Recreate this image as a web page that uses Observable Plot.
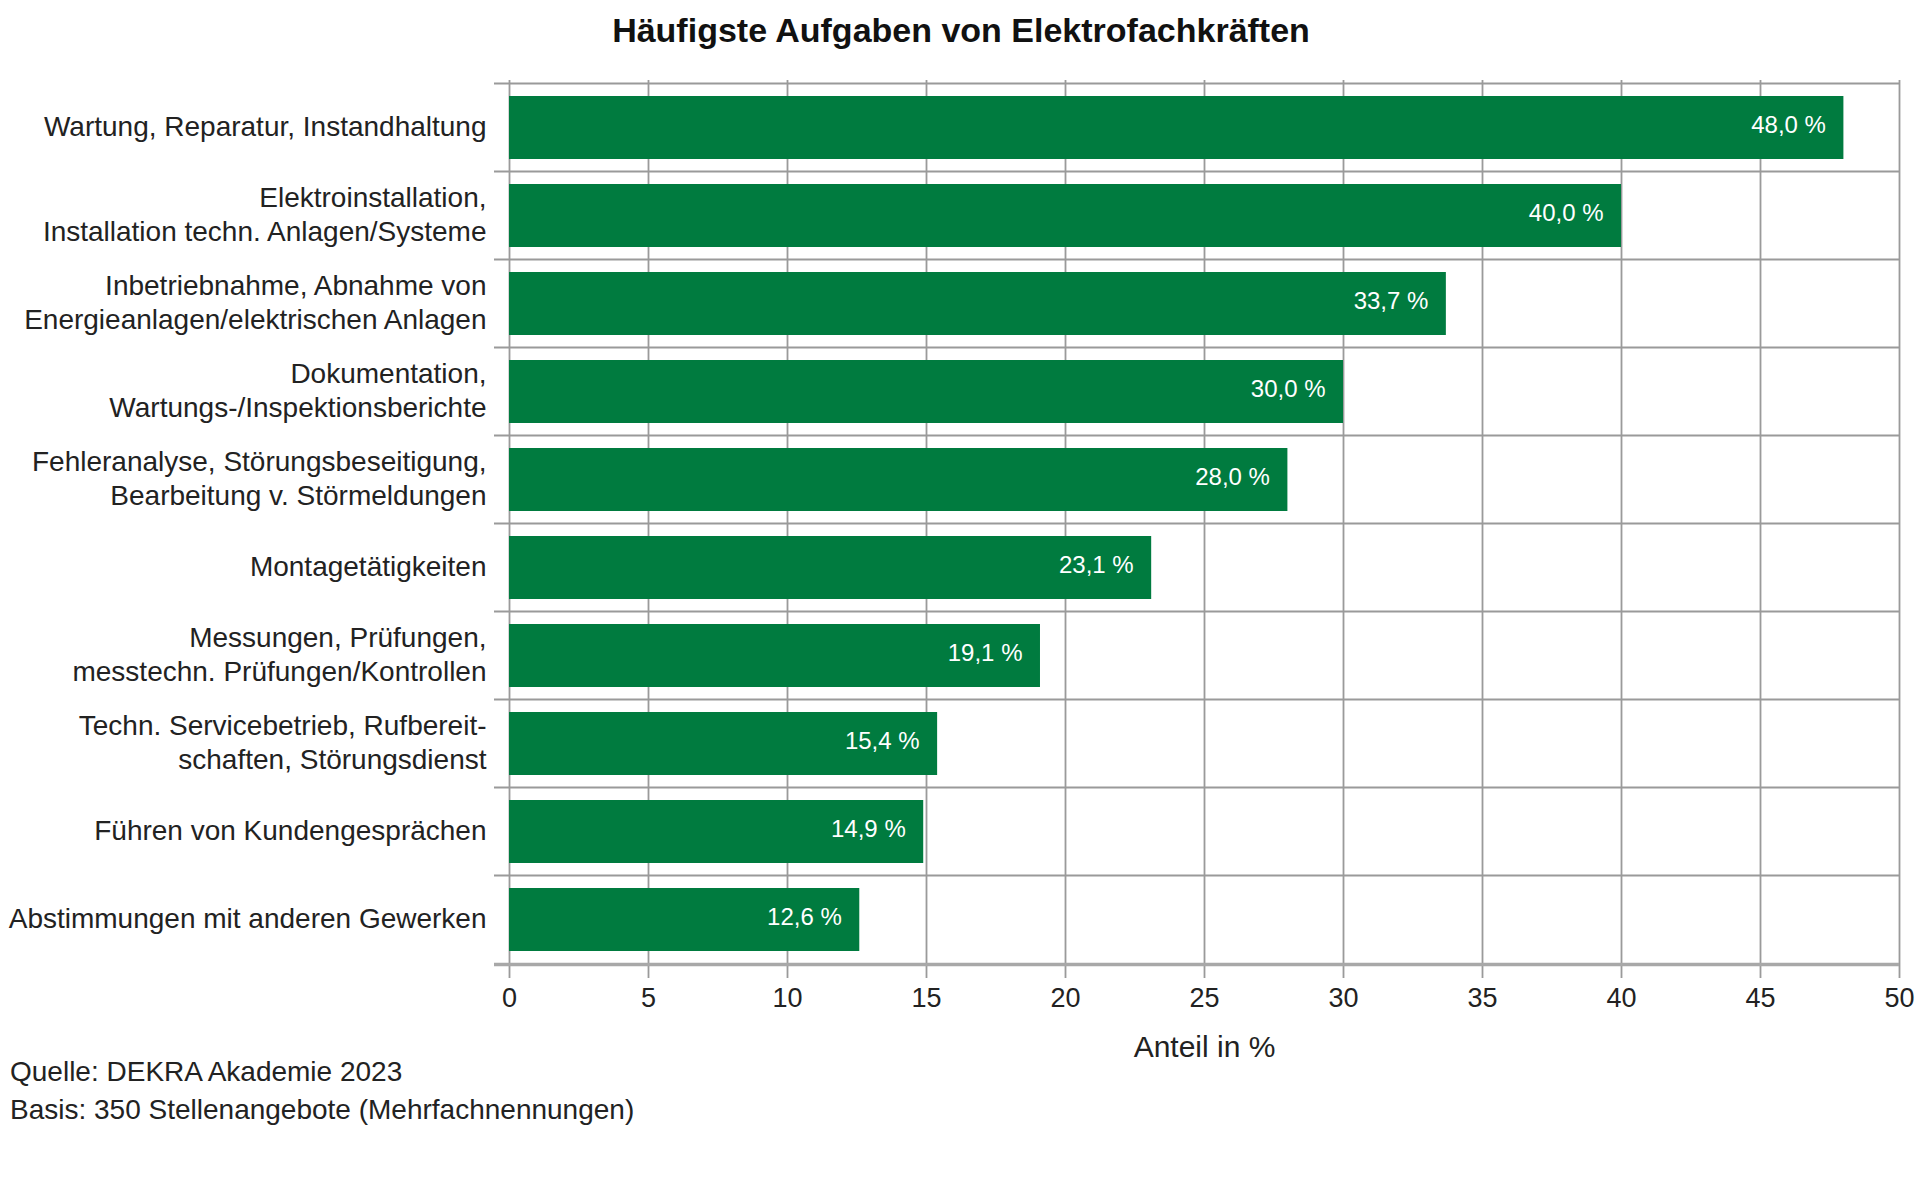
<!DOCTYPE html>
<html><head><meta charset="utf-8">
<script src="https://cdn.jsdelivr.net/npm/d3@7"></script>
<script src="https://cdn.jsdelivr.net/npm/@observablehq/plot@0.6"></script>
<style>
body{margin:0;background:#fff;font-family:"Liberation Sans",Arial,sans-serif;}
#wrap{position:relative;width:1922px;height:1204px;}
#title{position:absolute;left:0;top:10px;width:1922px;text-align:center;font-weight:bold;font-size:34px;line-height:40px;color:#111;}
#chart{position:absolute;left:0;top:0;}
#caption{position:absolute;left:10px;top:1053px;font-size:28px;line-height:38px;color:#222;}
</style></head><body>
<div id="wrap"><div id="chart"></div><div id="title">Häufigste Aufgaben von Elektrofachkräften</div><div id="caption">Quelle: DEKRA Akademie 2023<br>Basis: 350 Stellenangebote (Mehrfachnennungen)</div></div>
<script>
const categories = [
  "Wartung, Reparatur, Instandhaltung",
  "Elektroinstallation,\nInstallation techn. Anlagen/Systeme",
  "Inbetriebnahme, Abnahme von\nEnergieanlagen/elektrischen Anlagen",
  "Dokumentation,\nWartungs-/Inspektionsberichte",
  "Fehleranalyse, Störungsbeseitigung,\nBearbeitung v. Störmeldungen",
  "Montagetätigkeiten",
  "Messungen, Prüfungen,\nmesstechn. Prüfungen/Kontrollen",
  "Techn. Servicebetrieb, Rufbereit-\nschaften, Störungsdienst",
  "Führen von Kundengesprächen",
  "Abstimmungen mit anderen Gewerken"
];
const values = [48.0, 40.0, 33.7, 30.0, 28.0, 23.1, 19.1, 15.4, 14.9, 12.6];
const xTicks = [0, 5, 10, 15, 20, 25, 30, 35, 40, 45, 50];
const xLabel = "Anteil in %";

const data = categories.map((c, i) => ({task: c, value: values[i]}));
const fmt = v => v.toFixed(1).replace(".", ",") + " %";

const W = 1922, H = 1060, mT = 80, mB = 92, mL = 509, mR = 23;
const step = (H - mT - mB) / categories.length;
const grid = "#9a9a9a";

const chart = Plot.plot({
  width: W, height: H,
  marginTop: mT, marginBottom: mB, marginLeft: mL, marginRight: mR,
  style: {fontFamily: '"Liberation Sans", Arial, sans-serif', overflow: "visible", background: "white", color: "#222"},
  x: {domain: [0, 50]},
  y: {domain: categories, paddingInner: 0.28, paddingOuter: 0.14},
  marks: [
    Plot.gridX(xTicks, {stroke: grid, strokeOpacity: 1, strokeWidth: 1.8}),
    Plot.ruleY(categories, {y: d => d, dy: -step / 2, insetLeft: -15, stroke: grid, strokeWidth: 2}),
    Plot.barX(data, {x: "value", y: "task", fill: "#007b3f"}),
    Plot.ruleY([categories[categories.length - 1]], {y: d => d, dy: step / 2, insetLeft: -15, stroke: "#a8a8a8", strokeWidth: 3.5}),
    Plot.axisX({ticks: xTicks, tickSize: 10, tickPadding: 9, fontSize: 27, stroke: grid, strokeWidth: 1.8, label: null}),
    Plot.text([xLabel], {frameAnchor: "bottom", dy: 88, lineAnchor: "bottom", fontSize: 30, fill: "#222"}),
    Plot.axisY({tickSize: 0, tickPadding: 23, fontSize: 28, lineHeight: 1.22, dy: -3, label: null}),
    Plot.text(data, {x: "value", y: "task", text: d => fmt(d.value), textAnchor: "end", dx: -18, dy: -3, fill: "white", fontSize: 24})
  ]
});
document.getElementById("chart").appendChild(chart);
</script>
</body></html>
